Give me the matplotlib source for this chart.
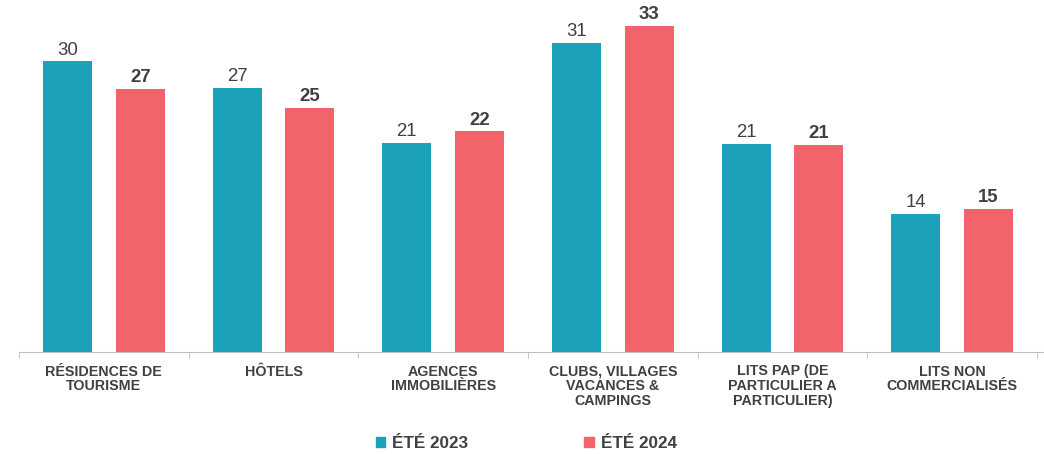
import numpy as np
import matplotlib.pyplot as plt
from matplotlib.patches import Patch

plt.rcParams['font.family'] = ['Liberation Sans', 'DejaVu Sans']

categories = ["RÉSIDENCES DE\nTOURISME", "HÔTELS", "AGENCES\nIMMOBILIÈRES",
              "CLUBS, VILLAGES\nVACANCES &\nCAMPINGS",
              "LITS PAP (DE\nPARTICULIER A\nPARTICULIER)",
              "LITS NON\nCOMMERCIALISÉS"]
ete_2023 = [29.5, 26.8, 21.2, 31.4, 21.1, 14.0]
ete_2024 = [26.7, 24.8, 22.4, 33.1, 21.0, 14.5]
labels_2023 = [30, 27, 21, 31, 21, 14]
labels_2024 = [27, 25, 22, 33, 21, 15]

blue = "#1BA1BA"
red = "#F2636A"
txt = "#404040"
grey = "#BFBFBF"

fig = plt.figure(figsize=(10.44, 4.54), dpi=100)
ax = fig.add_axes([19 / 1044, 102 / 454, 1025 / 1044, 342 / 454])

x = np.arange(len(categories))
w = 0.289
off = 0.215
b1 = ax.bar(x - off, ete_2023, w, color=blue)
b2 = ax.bar(x + off, ete_2024, w, color=red)

for rect, lab in zip(b1, labels_2023):
    ax.annotate(str(lab), (rect.get_x() + rect.get_width() / 2, rect.get_height()),
                xytext=(0, 2), textcoords="offset points", ha="center", va="bottom",
                fontsize=13.4, color=txt)
for rect, lab in zip(b2, labels_2024):
    ax.annotate(str(lab), (rect.get_x() + rect.get_width() / 2, rect.get_height()),
                xytext=(0, 2), textcoords="offset points", ha="center", va="bottom",
                fontsize=13.4, color=txt, fontweight="bold")

ax.set_xlim(-0.5, 5.5 + 7 / 169.7)
ax.set_ylim(0, 342 / 9.85)
for s in ["top", "right", "left"]:
    ax.spines[s].set_visible(False)
ax.spines["bottom"].set_color(grey)
ax.set_yticks([])
ax.set_xticks(x)
ax.set_xticklabels(categories, fontsize=10.3, fontweight="bold", color=txt,
                   linespacing=1.08, va="top")
ax.tick_params(axis="x", which="major", length=0, pad=9)
ax.set_xticks(np.arange(-0.5, 6.0, 1.0), minor=True)
ax.tick_params(axis="x", which="minor", length=4, color=grey, direction="out")

handles = [Patch(color=blue, label="ÉTÉ 2023"), Patch(color=red, label="ÉTÉ 2024")]
leg = fig.legend(handles=handles, loc="center", bbox_to_anchor=(0.504, 1 - 443.5 / 454),
                 ncol=2, frameon=False, handlelength=0.55, handleheight=0.55,
                 handletextpad=0.4, columnspacing=6.8,
                 prop={"size": 12.3, "weight": "bold"})
for t in leg.get_texts():
    t.set_color(txt)

fig.savefig("out.png", dpi=100)
